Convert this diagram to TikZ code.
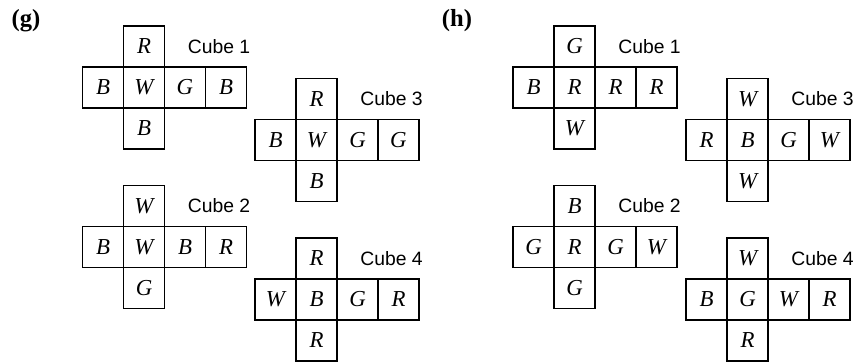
\documentclass[tikz,border=0pt]{standalone}
\usepackage{fontspec}
\setmainfont{Liberation Serif}
\setsansfont{Liberation Sans}
\usetikzlibrary{positioning}

\tikzset{
  face/.style={draw, line width=0.7pt, minimum size=0.82cm, inner sep=0pt,
    outer sep=0pt, font=\fontsize{13}{15}\selectfont\itshape},
  cubelabel/.style={inner sep=0pt, font=\fontsize{11}{13}\sffamily},
  partlabel/.style={inner sep=0pt, font=\fontsize{14}{16}\selectfont\bfseries}
}

% net of one cube: name, centre, top, left, centre, right, far right, bottom, label
\newcommand{\cubenet}[9]{%
  \node[face] (#1c) at (#2) {#5};
  \node[face, above=0pt of #1c] (#1t) {#3};
  \node[face, below=0pt of #1c] (#1b) {#8};
  \node[face, left=0pt of #1c] (#1l) {#4};
  \node[face, right=0pt of #1c] (#1r) {#6};
  \node[face, right=0pt of #1r] (#1f) {#7};
  \node[cubelabel, right=0.46cm of #1t] (#1n) {#9};
}

\begin{document}
\begin{tikzpicture}[x=0.02cm, y=-0.02cm]
  \useasboundingbox (0,0) rectangle (861,362);

  % part (g)
  \node[partlabel] (g) at (26,21) {(g)};
  \cubenet{gone}{144,87.5}{R}{B}{W}{G}{B}{B}{Cube 1}
  \cubenet{gthree}{316.5,140}{R}{B}{W}{G}{G}{B}{Cube 3}
  \cubenet{gtwo}{144,247}{W}{B}{W}{B}{R}{G}{Cube 2}
  \cubenet{gfour}{316.5,299.5}{R}{W}{B}{G}{R}{R}{Cube 4}

  % part (h)
  \node[partlabel] (h) at (457,21) {(h)};
  \cubenet{hone}{574.5,87.5}{G}{B}{R}{R}{R}{W}{Cube 1}
  \cubenet{hthree}{747.5,140}{W}{R}{B}{G}{W}{W}{Cube 3}
  \cubenet{htwo}{574.5,247}{B}{G}{R}{G}{W}{G}{Cube 2}
  \cubenet{hfour}{747.5,299.5}{W}{B}{G}{W}{R}{R}{Cube 4}

\end{tikzpicture}
\end{document}
